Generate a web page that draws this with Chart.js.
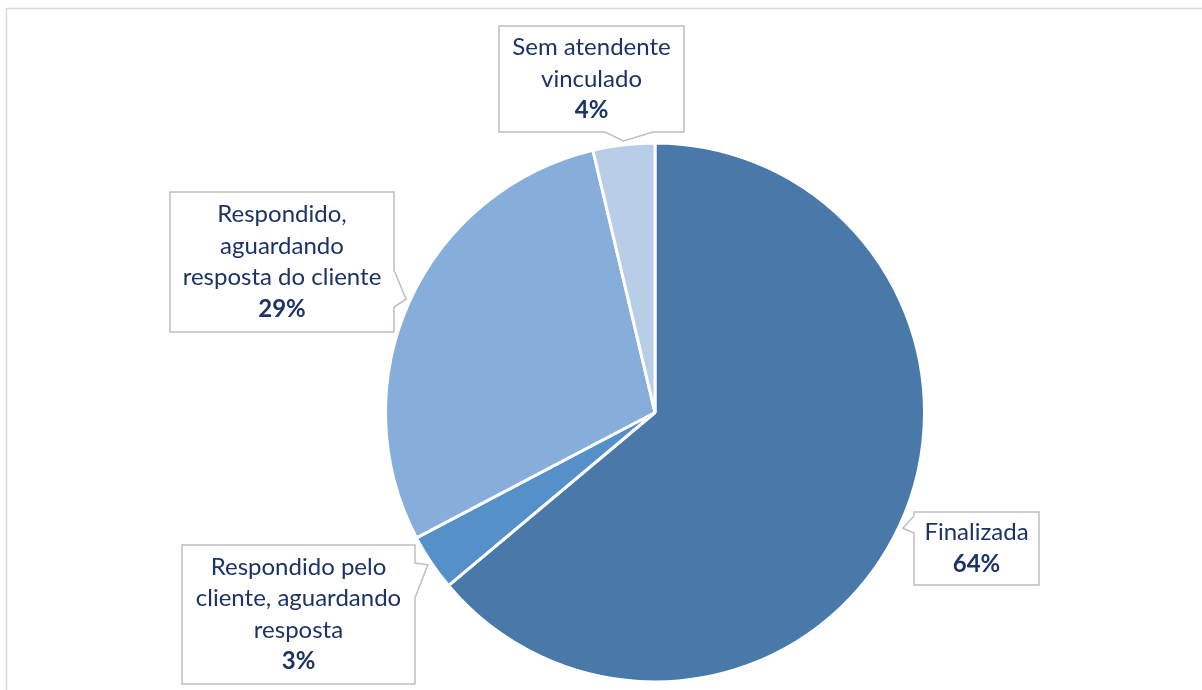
<!DOCTYPE html>
<html>
<head>
<meta charset="utf-8">
<script src="https://cdn.jsdelivr.net/npm/chart.js@4/dist/chart.umd.min.js"></script>
<style>
  html, body { margin: 0; padding: 0; background: #fff; }
  #wrap { width: 1202px; height: 690px; position: relative; }
</style>
</head>
<body>
<div id="wrap"><canvas id="chart"></canvas></div>
<script>
// status da demanda — pizza com balões de rótulo
const LABELS = [
  ['Finalizada'],
  ['Respondido pelo', 'cliente, aguardando', 'resposta'],
  ['Respondido,', 'aguardando', 'resposta do cliente'],
  ['Sem atendente', 'vinculado']
];
const VALUES = [63.9, 3.4, 29.0, 3.7];
const COLORS = ['#4979A8', '#5591C8', '#87AEDB', '#B7CDE8'];

const TEXT  = '#1C3366';
const FONT  = 'Lato, "Open Sans", sans-serif';
const EDGE  = '#BFBFBF';

// caixas dos balões (layout), na mesma ordem das fatias
const BOXES = [
  { x: 914, y: 512, w: 125, h: 73,  side: 'left',   b0: 516, b1: 533 },
  { x: 182, y: 545, w: 233, h: 139, side: 'right',  b0: 563, b1: 598 },
  { x: 170, y: 192, w: 224, h: 140, side: 'right',  b0: 270, b1: 307 },
  { x: 499, y: 26,  w: 185, h: 106, side: 'bottom', b0: 605, b1: 653 }
];

const frame = {
  id: 'frame',
  beforeDraw(chart) {
    const ctx = chart.ctx;
    ctx.save();
    ctx.strokeStyle = '#D9D9D9';
    ctx.lineWidth = 1.5;
    ctx.strokeRect(6.5, 8.5, 1400, 900);
    ctx.restore();
  }
};

const callouts = {
  id: 'callouts',
  afterDraw(chart) {
    const ctx = chart.ctx;
    const meta = chart.getDatasetMeta(0);
    const total = VALUES.reduce((a, b) => a + b, 0);
    meta.data.forEach((arc, i) => {
      const p = arc.getProps(['x', 'y', 'startAngle', 'endAngle', 'outerRadius'], true);
      const mid = (p.startAngle + p.endAngle) / 2;
      const tx = p.x + Math.cos(mid) * (p.outerRadius + 4);
      const ty = p.y + Math.sin(mid) * (p.outerRadius + 4);
      const b = BOXES[i];
      const x0 = b.x, y0 = b.y, x1 = b.x + b.w, y1 = b.y + b.h;

      ctx.save();
      ctx.beginPath();
      ctx.moveTo(x0, y0);
      if (b.side === 'left') {
        ctx.lineTo(x1, y0); ctx.lineTo(x1, y1); ctx.lineTo(x0, y1);
        ctx.lineTo(x0, b.b1); ctx.lineTo(tx, ty); ctx.lineTo(x0, b.b0);
      } else if (b.side === 'right') {
        ctx.lineTo(x1, y0); ctx.lineTo(x1, b.b0); ctx.lineTo(tx, ty);
        ctx.lineTo(x1, b.b1); ctx.lineTo(x1, y1); ctx.lineTo(x0, y1);
      } else {
        ctx.lineTo(x1, y0); ctx.lineTo(x1, y1); ctx.lineTo(b.b1, y1);
        ctx.lineTo(tx, ty); ctx.lineTo(b.b0, y1); ctx.lineTo(x0, y1);
      }
      ctx.closePath();
      ctx.fillStyle = '#fff';
      ctx.fill();
      ctx.strokeStyle = EDGE;
      ctx.lineWidth = 1.5;
      ctx.stroke();

      const lines = LABELS[i].concat([Math.round(VALUES[i] / total * 100) + '%']);
      const lh = 31.5;
      const cx = (x0 + x1) / 2;
      const cy = (y0 + y1) / 2;
      ctx.fillStyle = TEXT;
      ctx.textAlign = 'center';
      ctx.textBaseline = 'middle';
      lines.forEach((t, k) => {
        const bold = k === lines.length - 1;
        ctx.font = (bold ? 'bold ' : '') + '24px ' + FONT;
        ctx.fillText(t, cx, cy + (k - (lines.length - 1) / 2) * lh);
      });
      ctx.restore();
    });
  }
};

new Chart(document.getElementById('chart'), {
  type: 'pie',
  data: {
    labels: LABELS.map(l => l.join(' ')),
    datasets: [{
      data: VALUES,
      backgroundColor: COLORS,
      borderColor: '#fff',
      borderWidth: 3
    }]
  },
  options: {
    responsive: true,
    maintainAspectRatio: false,
    animation: false,
    layout: { padding: { left: 384, right: 276, top: 140, bottom: 5 } },
    plugins: {
      legend: { display: false },
      tooltip: { enabled: false }
    }
  },
  plugins: [frame, callouts]
});
</script>
</body>
</html>
